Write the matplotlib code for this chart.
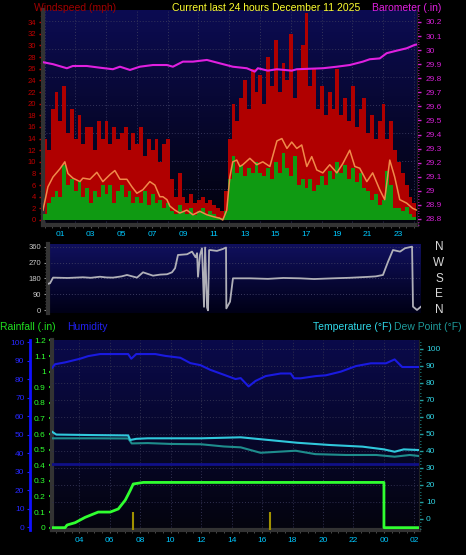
import matplotlib.pyplot as plt
import numpy as np
from matplotlib.colors import LinearSegmentedColormap
from matplotlib.ticker import MultipleLocator, FixedLocator

plt.rcParams['font.family'] = ['Liberation Sans', 'DejaVu Sans']

W, H = 466, 555

# ---- top panel: wind (mph) sampled every 15 min, start at -0.1 h ----
gust = [14, 12, 19, 22, 17, 23, 15, 19, 14, 18, 13, 16, 16, 12, 17, 14,
        17, 13, 16, 14, 15, 16, 12, 15, 13, 16, 11, 14, 12, 14, 10, 13,
        14, 7, 4, 8, 4, 3, 4.5, 3, 3.5, 4, 3, 3.5, 2.5, 2, 1.5, 5,
        14, 20, 17, 21, 24, 19, 26, 22, 25, 20, 28, 23, 31, 22, 27, 24,
        32, 21, 26, 30, 35.5, 23, 26, 19, 23, 18, 22, 19, 26, 18, 21, 17,
        23, 16, 19, 21, 15, 18, 14, 17, 20, 14, 17, 12, 10, 8, 6, 4, 3]
wind = [1, 3, 4, 5, 4, 9.5, 6, 7, 5, 6.5, 4, 5.5, 3, 5, 4, 6,
        4.5, 6, 3, 5, 6, 4, 5, 3, 4, 3, 5, 2.5, 4.5, 3, 3.5, 2,
        3, 1.5, 1, 2.5, 1.5, 1, 2, 0.8, 1.5, 2, 1, 1.5, 1, 0.5, 0.3, 1.5,
        7, 11, 8, 9.5, 7.5, 9, 8, 10, 8, 7.5, 9, 7, 10, 8, 11.5, 9,
        7.5, 11, 6, 7, 5.5, 7, 5, 6, 7.5, 6, 8.5, 7, 10, 8, 9.5, 7,
        9, 6.5, 8, 5.5, 5, 3.5, 4.5, 2.5, 3.5, 8.5, 6, 2, 2, 1.5, 2.3, 1, 0.5]

avg_t = [-0.10, 0.22, 0.55, 1.0, 1.32, 1.52, 1.84, 2.30, 2.49, 2.95, 3.40, 3.79,
         4.25, 4.57, 4.90, 5.35, 5.68, 6.0, 6.39, 6.84, 7.17, 7.49, 7.69, 7.95,
         8.14, 8.47, 8.79, 9.25, 9.64, 10.09, 10.55, 10.94, 11.39, 11.58, 11.84,
         12.04, 12.23, 12.49, 12.69, 12.88, 13.34, 13.79, 14.18, 14.64, 15.1,
         15.42, 15.75, 16.06, 16.39, 16.71, 17.04, 17.36, 17.69, 18.08, 18.53,
         18.99, 19.38, 19.83, 20.16, 20.48, 20.94, 21.32, 21.78, 22.1, 22.43,
         22.75, 23.08, 23.53, 23.92, 24.18]
avg_v = [1.7, 5.7, 7.4, 8.8, 10, 8, 7.2, 6.6, 7.2, 7, 8.2, 6.6,
         7.8, 8.5, 7, 7, 5.7, 4.6, 5.2, 6.6, 6, 4, 4, 3.5,
         2.4, 1.7, 1.2, 1.7, 0.9, 1.5, 0.9, 0.6, 0.3, 0, 1.7,
         7.4, 10, 10.3, 9.2, 9.5, 10.6, 9.5, 10, 9.2, 13.6,
         14, 12.3, 13.4, 12.3, 12.9, 9.2, 10.9, 8.6, 8.1, 9.5,
         8.1, 9.7, 12, 9.2, 8.9, 6.6, 8.1, 5.2, 3.5, 10.3,
         7.4, 3.5, 2.9, 2, 1.7]

baro_t = [-0.10, 0.55, 1.45, 1.84, 2.75, 3.6, 4.44, 4.9, 5.55, 6.19, 7.04, 7.95,
          8.34, 8.99, 9.64, 10.55, 11.39, 12.23, 13.14, 13.66, 13.86, 14.51,
          15.09, 16.06, 16.39, 18.08, 18.99, 19.83, 20.68, 21.13, 21.78, 22.23,
          22.88, 23.53, 24.05, 24.2]
baro_v = [29.914, 29.90, 29.871, 29.887, 29.887, 29.875, 29.864, 29.882, 29.859,
          29.882, 29.894, 29.894, 29.882, 29.918, 29.918, 29.93, 29.906, 29.882,
          29.871, 29.847, 29.871, 29.854, 29.864, 29.854, 29.864, 29.871, 29.882,
          29.894, 29.918, 29.935, 29.941, 29.978, 29.996, 30.013, 30.037, 30.04]

# ---- wind direction (degrees) ----
dir_t = [0.22, 0.35, 0.55, 1.5, 2.49, 3.0, 3.60, 4.0, 4.44, 5.0, 5.35, 6.0, 6.39,
         7.04, 7.5, 7.95, 8.27, 8.47, 8.66, 9.25, 9.57, 9.80, 9.90, 9.96, 10.09,
         10.22, 10.35, 10.42, 10.55, 10.61, 10.68, 10.74, 11.19, 11.58, 11.78,
         11.80, 12.04, 12.23, 13.34, 14.5, 15.5, 16.58, 17.5, 18.73, 19.8,
         20.94, 21.5, 21.97, 22.30, 22.62, 23.08, 23.40, 23.86, 23.92, 24.18, 24.44]
dir_v = [150, 153, 185, 183, 187, 184, 190, 186, 185, 192, 200, 185, 215,
         196, 202, 204, 215, 238, 313, 317, 332, 300, 323, 190, 313,
         351, 20, 355, 15, 0, 340, 341, 336, 347, 355,
         11, 49, 181, 181, 178, 183, 181, 177, 181, 184,
         189, 192, 200, 275, 341, 332, 351, 360, 21, 2, 21]

# ---- bottom panel (hours, 04 = 4 ... 02 next day = 26) ----
hum_t = [2.22, 2.42, 3.08, 4.07, 4.6, 5.38, 7.22, 7.42, 7.75, 9.0, 9.66, 10.64,
         11.3, 11.96, 12.6, 13.6, 14.26, 14.6, 15.12, 15.58, 16.24, 17.22, 17.88,
         18.1, 18.54, 19.53, 20.18, 21.17, 22.16, 23.14, 24.13, 24.7, 25.2, 26.3]
hum_v = [86, 88, 89, 91, 92.4, 93.5, 93.5, 91, 93.5, 93.5, 92.5, 91.5,
         88.6, 87.5, 85, 82, 80, 80.5, 76, 79, 81.6, 83, 83,
         80.4, 80.4, 81.6, 82, 84, 87, 88.5, 88.5, 90.6, 86.5, 86.5]

temp_t = [2.22, 2.5, 5.0, 7.22, 7.35, 7.75, 8.5, 12.0, 14.6, 18.3, 20.4,
          22.6, 24.0, 24.7, 25.3, 26.3]
temp_v = [51.2, 49.5, 49.2, 49.0, 46.3, 47.0, 47.3, 47.3, 47.9, 44.7, 43.4,
          42.4, 40.8, 39.4, 40.8, 40.4]
dew_t = [2.22, 5.0, 7.22, 7.45, 8.5, 10.0, 12.0, 13.5, 14.6, 15.9, 18.2,
         19.5, 21.5, 23.5, 24.7, 25.7, 26.3]
dew_v = [47.3, 47.3, 47.2, 44.3, 44.5, 44.0, 43.8, 42.5, 42.0, 38.8, 40.0,
         38.0, 37.5, 37.5, 36.5, 37.5, 36.9]

rain_t = [2.22, 3.08, 3.21, 3.74, 4.39, 5.25, 6.04, 6.57, 7.03, 7.36, 7.55,
          8.21, 24.0, 24.0, 26.3]
rain_v = [0, 0, 0.017, 0.032, 0.066, 0.10, 0.10, 0.12, 0.177, 0.24, 0.28,
          0.29, 0.29, 0, 0]
rate_t = [7.55, 16.5]
rate_v = [0.1, 0.1]

top_ticks = [1, 3, 5, 7, 9, 11, 13, 15, 17, 19, 21, 23]
bot_ticks = [4, 6, 8, 10, 12, 14, 16, 18, 20, 22, 24, 26]


def rect(l, t, r, b):
    return [l / W, 1 - b / H, (r - l) / W, (b - t) / H]


def gradient(ax, top, bottom):
    cm = LinearSegmentedColormap.from_list('g', [bottom, top])
    g = np.linspace(0, 1, 100).reshape(-1, 1)
    ax.imshow(g, extent=[0, 1, 0, 1], transform=ax.transAxes, aspect='auto',
              cmap=cm, origin='lower', zorder=0)


def ftext(x, y, s, color, size=7.5, ha='left'):
    fig.text(x / W, 1 - y / H, s, color=color, fontsize=size, ha=ha, va='center')


fig = plt.figure(figsize=(W / 100, H / 100), dpi=100, facecolor='black')

# ================= top panel =================
ax1 = fig.add_axes(rect(43, 10, 417, 225))
gradient(ax1, '#0c0c52', '#02020c')
ax1.set_xlim(-0.1, 24.2)
ax1.set_ylim(-0.86, 36.1)
gt = -0.1 + 0.25 * np.arange(len(gust))
ax1.bar(gt, gust, width=0.25, align='edge', color='#b00000', lw=0, zorder=2)
ax1.bar(gt, wind, width=0.25, align='edge', color='#0f9a12', lw=0, zorder=3)
ax1.plot(avg_t, avg_v, color='#f08a4a', lw=1.1, zorder=4)
for h in range(0, 25, 2):
    ax1.axvline(h, color='#34345a', lw=0.7, ls=(0, (1, 2)), zorder=1)
for w in [5.4, 10.2, 15.0, 19.8, 24.6, 29.4, 34.2]:
    ax1.axhline(w, color='#34345a', lw=0.7, ls=(0, (1, 2)), zorder=1)
ax1.yaxis.set_major_locator(FixedLocator(list(range(0, 35, 2))))
ax1.yaxis.set_minor_locator(MultipleLocator(1))
ax1.xaxis.set_major_locator(FixedLocator(top_ticks))
ax1.xaxis.set_minor_locator(MultipleLocator(0.5))
ax1.set_xticklabels(['%02d' % t for t in top_ticks])
ax1.tick_params(axis='y', colors='#c00000', labelsize=5.5, length=3, width=1, pad=2)
ax1.tick_params(axis='y', which='minor', colors='#7a0000', length=2)
ax1.tick_params(axis='x', which='both', colors='#555555', labelcolor='#00c8ff',
                labelsize=6, length=2, pad=2)
for s in ['top', 'right']:
    ax1.spines[s].set_visible(False)
for s in ['left', 'bottom']:
    ax1.spines[s].set_color('#333333')
    ax1.spines[s].set_linewidth(3)

ax1b = ax1.twinx()
ax1b.set_ylim(28.757, 30.285)
ax1b.plot(baro_t, baro_v, color='#e020e0', lw=1.5, zorder=5)
ax1b.yaxis.set_major_locator(MultipleLocator(0.1))
ax1b.yaxis.set_minor_locator(MultipleLocator(0.02))
ax1b.yaxis.set_major_formatter(plt.FuncFormatter(
    lambda v, p: '%d' % round(v) if abs(v - round(v)) < 1e-6 else '%.1f' % v))
ax1b.tick_params(axis='y', colors='#d020d0', labelsize=6, length=3, width=1, pad=3)
ax1b.tick_params(axis='y', which='minor', colors='#a010a0', length=1.5)
for s in ['top', 'left', 'bottom']:
    ax1b.spines[s].set_visible(False)
ax1b.spines['right'].set_color('#202020')

ftext(34, 8, 'Windspeed (mph)', '#a00000')
ftext(172, 8, 'Current last 24 hours December 11 2025', '#ffff30')
ftext(372, 8, 'Barometer (.in)', '#e020e0')

# ================= wind direction =================
ax2 = fig.add_axes(rect(48, 244, 421, 313))
gradient(ax2, '#10105e', '#000016')
ax2.set_xlim(0.22, 24.44)
ax2.set_ylim(-15, 375)
ax2.plot(dir_t, dir_v, color='#b0b0b8', lw=1.3, zorder=3)
for d in [90, 180, 270, 360]:
    ax2.axhline(d, color='#3a3a60', lw=0.7, ls=(0, (1, 2)), zorder=1)
ax2.set_xticks([])
ax2.yaxis.set_major_locator(FixedLocator([0, 90, 180, 270, 360]))
ax2.yaxis.set_minor_locator(MultipleLocator(18))
ax2.tick_params(axis='y', colors='#999999', labelcolor='#c8c8c8', labelsize=5.5,
                length=3, pad=2)
ax2.tick_params(axis='y', which='minor', length=2, colors='#555555')
for s in ['top', 'right', 'bottom']:
    ax2.spines[s].set_visible(False)
ax2.spines['left'].set_color('#333333')
ax2.spines['left'].set_linewidth(3)
for lab, d in zip(['N', 'W', 'S', 'E', 'N'], [360, 270, 180, 90, 0]):
    ftext(439, 310.3 - d * 63.6 / 360, lab, '#d8d8d8', size=8.5, ha='center')

# ================= bottom panel =================
ax3 = fig.add_axes(rect(52, 340, 419, 530))
gradient(ax3, '#0a0a4a', '#04040e')
ax3.set_xlim(2.22, 26.3)
ax3.set_ylim(-0.015, 1.203)
for t in bot_ticks:
    ax3.axvline(t, color='#303050', lw=0.7, ls=(0, (1, 2)), zorder=1)
ax3.xaxis.set_major_locator(FixedLocator(bot_ticks))
ax3.xaxis.set_minor_locator(MultipleLocator(0.5))
ax3.set_xticklabels(['%02d' % (t % 24) for t in bot_ticks])
ax3.tick_params(axis='x', which='both', colors='#555555', labelcolor='#00c8ff',
                labelsize=6, length=2, pad=3)
ax3.yaxis.set_major_locator(MultipleLocator(0.1))
ax3.yaxis.set_minor_locator(MultipleLocator(0.02))
ax3.yaxis.set_major_formatter(plt.FuncFormatter(
    lambda v, p: '%d' % round(v) if abs(v - round(v)) < 1e-6 else '%.1f' % v))
ax3.tick_params(axis='y', colors='#20e020', labelcolor='#30ff30', labelsize=6,
                length=2.5, width=1.5, pad=2)
ax3.tick_params(axis='y', which='minor', colors='#1a8a1a', length=1.5)
for s in ['top', 'right']:
    ax3.spines[s].set_visible(False)
for s in ['left', 'bottom']:
    ax3.spines[s].set_color('#333333')
    ax3.spines[s].set_linewidth(3)

axt = ax3.twinx()
axt.set_ylim(-6.6, 105.1)
for v in range(10, 101, 10):
    axt.axhline(v, color='#303050', lw=0.7, ls=(0, (1, 2)), zorder=1)
axt.axhline(32, color='#101088', lw=2, zorder=2)
axt.plot(dew_t, dew_v, color='#1e8c8c', lw=1.5, zorder=3)
axt.plot(temp_t, temp_v, color='#30c8dc', lw=1.5, zorder=4)
axt.yaxis.set_major_locator(MultipleLocator(10))
axt.yaxis.set_minor_locator(MultipleLocator(2))
axt.tick_params(axis='y', colors='#20a0a0', labelcolor='#30d0e0', labelsize=6,
                length=3, width=1, pad=2)
axt.tick_params(axis='y', which='minor', length=1.5, colors='#1a7a7a')
for s in ['top', 'left', 'bottom']:
    axt.spines[s].set_visible(False)
axt.spines['right'].set_color('#202020')

axh = ax3.twinx()
axh.set_ylim(-1.6, 101.1)
axh.plot(hum_t, hum_v, color='#1a1ae0', lw=1.5, zorder=5)
axh.yaxis.tick_left()
axh.spines['left'].set_position(('axes', -22 / 367))
axh.spines['left'].set_color('#1010ff')
axh.spines['left'].set_linewidth(2)
for s in ['top', 'right', 'bottom']:
    axh.spines[s].set_visible(False)
axh.yaxis.set_major_locator(MultipleLocator(10))
axh.tick_params(axis='y', colors='#2020ff', labelcolor='#2828ff', labelsize=6,
                length=2, pad=2)

axr = ax3.twinx()
axr.set_ylim(-0.015, 1.203)
axr.axis('off')
axr.plot(rain_t, rain_v, color='#30ff30', lw=2, zorder=6)
axr.vlines(rate_t, -0.015, rate_v, color='#a09000', lw=1.5, zorder=6)

ftext(0, 327, 'Rainfall (.in)', '#20e020')
ftext(67, 327, 'Humidity', '#2020f0')
ftext(313, 327, 'Temperature (\u00b0F)', '#30d8e8')
ftext(394, 327, 'Dew Point (\u00b0F)', '#1e9a9a')

fig.savefig('out.png', dpi=100, facecolor='black')
